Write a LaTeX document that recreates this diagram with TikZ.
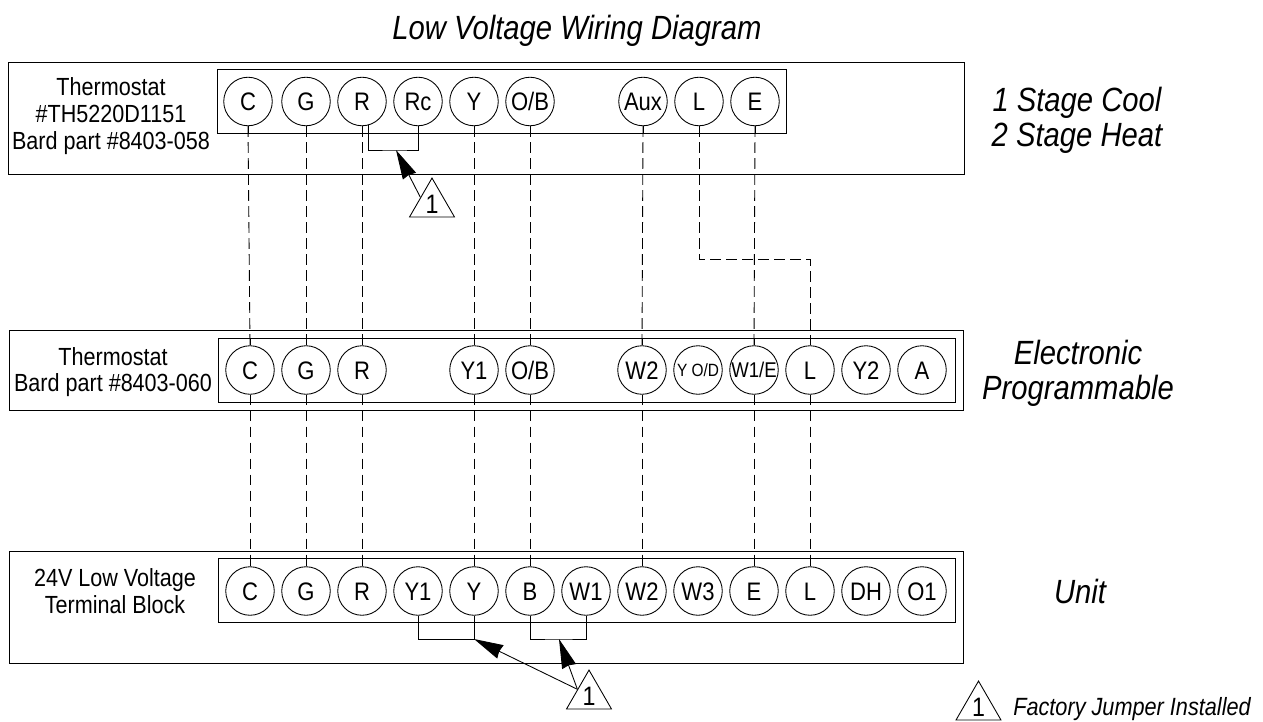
\documentclass[tikz,border=0pt]{standalone}
\usepackage{fontspec}
\setmainfont[FakeStretch=0.87]{Liberation Sans}
\usetikzlibrary{arrows.meta}
\usetikzlibrary{shapes.geometric}

\begin{document}
\begin{tikzpicture}[x=0.75pt, y=-0.75pt, >={Stealth[length=22pt, width=11pt, inset=1pt]}, node distance=42pt]
	\tikzstyle{panel} = [draw, line width=0.7pt, inner sep=0pt]
	\tikzstyle{strip} = [draw, line width=0.65pt, inner sep=0pt, minimum height=48pt]
	\tikzstyle{term} = [draw, circle, line width=0.65pt, minimum size=36.4pt, inner sep=0pt, text height=13.6pt, text depth=0pt, font=\fontsize{19}{19}\selectfont]
	\tikzstyle{flag} = [draw, regular polygon, regular polygon sides=3, line width=0.65pt, minimum size=37.5pt, inner sep=0pt, font=\fontsize{20}{20}\selectfont]
	\tikzstyle{caption} = [align=center, inner sep=0pt, font=\fontsize{18.6}{20}\selectfont]
	\tikzstyle{side} = [align=center, inner sep=0pt, font=\fontsize{25.2}{26.2}\selectfont\itshape]
	\tikzstyle{wire} = [line width=0.65pt]
	\tikzstyle{field} = [line width=0.65pt, dash pattern=on 8pt off 4pt]
	\useasboundingbox (0,0) rectangle (1263,721);

	\node[side] (title) at (577,31) {Low Voltage Wiring Diagram};

	% top thermostat
	\node[panel, minimum width=717pt, minimum height=84pt] (tpanel) at (486,118) {};
	\node[strip, minimum width=426.75pt] (tstrip) at (501.5,101) {};
	\node[caption] (tlabel) at (111,116) {Thermostat\\\#TH5220D1151\\Bard part \#8403-058};
	\node[side] (tside) at (1077,120) {1 Stage Cool\\2 Stage Heat};
	\path
		node[term] (tC) at (248,101.5) {C}
		node[term] (tG) at (306,101.5) {G}
		node[term, right of=tG] (tR) {R}
		node[term, right of=tR] (tRc) {Rc}
		node[term, right of=tRc] (tY) {Y}
		node[term, right of=tY] (tOB) {O/B}
		node[term, right of=tOB, xshift=42.75pt] (tAux) {Aux}
		node[term, right of=tAux] (tL) {L}
		node[term, right of=tL] (tE) {E}
		;

	% middle thermostat
	\node[panel, minimum width=716pt, minimum height=60pt] (mpanel) at (486.5,370) {};
	\node[strip, minimum width=552.75pt] (mstrip) at (586.5,370) {};
	\node[caption] (mlabel) at (113,372) {Thermostat\\Bard part \#8403-060};
	\node[side] (mside) at (1078,373) {Electronic\\Programmable};
	\path
		node[term] (mC) at (250,370) {C}
		node[term, right of=mC] (mG) {G}
		node[term, right of=mG] (mR) {R}
		node[term, right of=mR, xshift=42pt] (mY1) {Y1}
		node[term, right of=mY1] (mOB) {O/B}
		node[term, right of=mOB, xshift=42pt] (mW2) {W2}
		node[term, right of=mW2, text height=9.5pt, font=\fontsize{13.3}{14}\selectfont] (mYOD) {Y O/D}
		node[term, right of=mYOD, text height=11.5pt, font=\fontsize{16}{16}\selectfont] (mWE) {W1/E}
		node[term, right of=mWE] (mL) {L}
		node[term, right of=mL] (mY2) {Y2}
		node[term, right of=mY2] (mA) {A}
		;

	% unit block
	\node[panel, minimum width=715.5pt, minimum height=84pt] (upanel) at (486,607) {};
	\node[strip, minimum width=552.75pt] (ustrip) at (586.5,590.5) {};
	\node[caption] (ulabel) at (115,591) {24V Low Voltage\\Terminal Block};
	\node[side] (uside) at (1080,591) {Unit};
	\path
		node[term] (uC) at (250,591) {C}
		node[term, right of=uC] (uG) {G}
		node[term, right of=uG] (uR) {R}
		node[term, right of=uR] (uYa) {Y1}
		node[term, right of=uYa] (uY) {Y}
		node[term, right of=uY] (uB) {B}
		node[term, right of=uB] (uWa) {W1}
		node[term, right of=uWa] (uW2) {W2}
		node[term, right of=uW2] (uW3) {W3}
		node[term, right of=uW3] (uE) {E}
		node[term, right of=uE] (uL) {L}
		node[term, right of=uL] (uDH) {DH}
		node[term, right of=uDH] (uOa) {O1}
		;

	% field wiring
	\coordinate (lbend) at (810,259);
	\path[field]
		(tC.south) edge (mC.north)
		(tG.south) edge (mG.north)
		(tR.south) edge (mR.north)
		(tY.south) edge (mY1.north)
		(tOB.south) edge (mOB.north)
		(tAux.south) edge (mW2.north)
		(tE.south) edge (mWE.north)
		(mC.south) edge (uC.north)
		(mG.south) edge (uG.north)
		(mR.south) edge (uR.north)
		(mY1.south) edge (uY.north)
		(mOB.south) edge (uB.north)
		(mW2.south) edge (uW2.north)
		(mWE.south) edge (uE.north)
		(mL.south) edge (uL.north)
		;
	\draw[field] (tL.south) |- (lbend) -- (mL.north);

	% solid stubs inside the strips
	\foreach \n in {tC,tG,tR,tRc,tY,tOB,tAux,tL,tE}
		\draw[wire] (\n.south) -- (\n.south |- tstrip.south);
	\foreach \n in {mC,mG,mR,mY1,mOB,mW2,mWE,mL} {
		\draw[wire] (\n.north) -- (\n.north |- mstrip.north);
		\draw[wire] (\n.south) -- (\n.south |- mstrip.south);
	}
	\foreach \n in {uC,uG,uR,uY,uB,uW2,uE,uL}
		\draw[wire] (\n.north) -- (\n.north |- ustrip.north);

	% jumpers
	\coordinate (tjump) at (396,150);
	\coordinate (ujumpa) at (474,639);
	\coordinate (ujumpb) at (559,639);
	\draw[wire] (tR.-75) |- (tjump) -| (tRc.south);
	\draw[wire] (uYa.south) |- (ujumpa) -- (uY.south);
	\draw[wire] (uB.south) |- (ujumpb) -| (uWa.south);

	\node[flag] (tflag) at (432,204) {1};
	\node[flag] (uflag) at (589,696) {1};
	\draw[wire, ->] (tflag.side 1) -- (tjump);
	\draw[wire, ->] (uflag.side 1) -- (ujumpa);
	\draw[wire, ->] (uflag.side 1) -- (ujumpb);

	% legend
	\node[flag] (kflag) at (978.5,707) {1};
	\node[inner sep=0pt, anchor=west, font=\fontsize{18.7}{20}\selectfont\itshape] (ktext) at (1013,709) {Factory Jumper Installed};
\end{tikzpicture}
\end{document}
